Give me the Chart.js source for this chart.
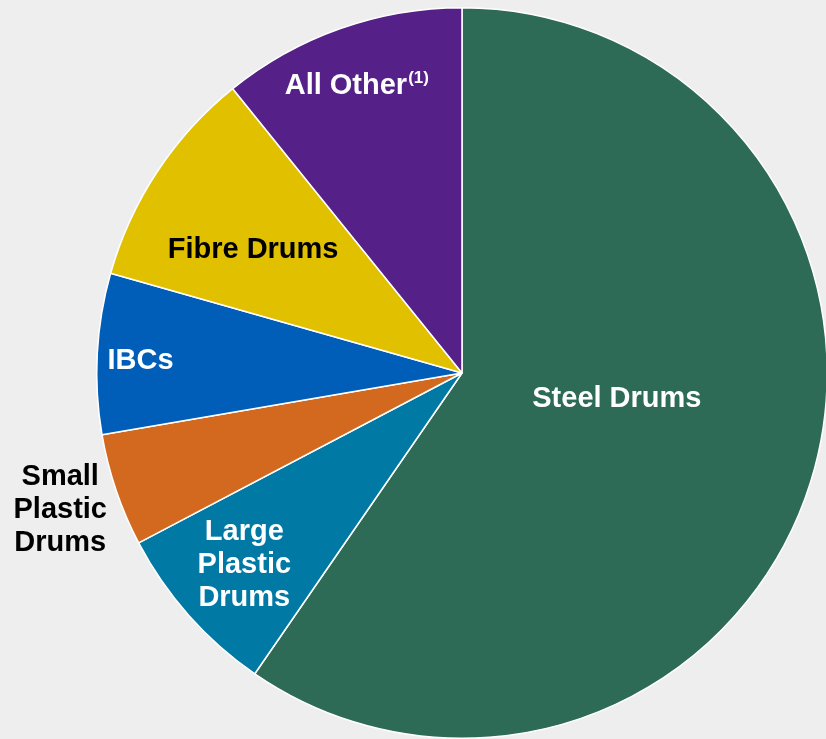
<!DOCTYPE html>
<html>
<head>
<meta charset="utf-8">
<script src="https://cdn.jsdelivr.net/npm/chart.js@4.4.1/dist/chart.umd.min.js"></script>
<style>
  html, body { margin: 0; padding: 0; background: #eeeeee; overflow: hidden; width: 826px; height: 739px; }
  canvas { display: block; }
</style>
</head>
<body>
<canvas id="c" width="832" height="745"></canvas>
<script>
// ---- Data ----
const categories = ["Steel Drums", "Large Plastic Drums", "Small Plastic Drums", "IBCs", "Fibre Drums", "All Other"];
const shares = [59.6, 7.7, 5.0, 7.1, 9.8, 10.8];
const labelLines = [["Steel Drums"], ["Large", "Plastic", "Drums"], ["Small", "Plastic", "Drums"], ["IBCs"], ["Fibre Drums"], ["All Other"]];
const labelNotes = ["", "", "", "", "", "(1)"];

// ---- Styles ----
const sliceColors = ["#2e6b57", "#0079a5", "#d2691f", "#005eb8", "#e1c000", "#552088"];
const labelColors = ["#ffffff", "#ffffff", "#000000", "#ffffff", "#000000", "#ffffff"];
// label centre offsets relative to pie centre, in units of outer radius
const labelPos = [[0.424, 0.072], [-0.596, 0.527], [-1.1, 0.374], [-0.88, -0.034], [-0.572, -0.336], [-0.288, -0.785]];

const FONT = "'Liberation Sans', Arial, Helvetica, sans-serif";

const labelPlugin = {
  id: 'sliceLabels',
  afterDatasetsDraw(chart) {
    const ctx = chart.ctx;
    const meta = chart.getDatasetMeta(0);
    const arc0 = meta.data[0];
    const cx = arc0.x, cy = arc0.y, R = arc0.outerRadius;
    ctx.save();
    ctx.textBaseline = 'middle';
    labelLines.forEach((lines, i) => {
      const x = cx + labelPos[i][0] * R;
      const y = cy + labelPos[i][1] * R;
      const lh = 33;
      ctx.fillStyle = labelColors[i];
      ctx.font = "bold 29px " + FONT;
      const startY = y - (lines.length - 1) * lh / 2;
      if (labelNotes[i]) {
        const mainW = ctx.measureText(lines[0]).width;
        ctx.font = "bold 17px " + FONT;
        const noteW = ctx.measureText(labelNotes[i]).width;
        const left = x - (mainW + noteW + 1) / 2;
        ctx.textAlign = 'left';
        ctx.font = "bold 29px " + FONT;
        ctx.fillText(lines[0], left, startY);
        ctx.font = "bold 17px " + FONT;
        ctx.fillText(labelNotes[i], left + mainW + 1, startY - 8);
      } else {
        ctx.textAlign = 'center';
        lines.forEach((t, k) => ctx.fillText(t, x, startY + k * lh));
      }
    });
    ctx.restore();
  }
};

new Chart(document.getElementById('c'), {
  type: 'pie',
  data: {
    labels: categories,
    datasets: [{
      data: shares,
      backgroundColor: sliceColors,
      borderColor: '#ffffff',
      borderWidth: 1.5
    }]
  },
  options: {
    responsive: false,
    animation: false,
    layout: { padding: { left: 96, top: 7, right: 4, bottom: 6 } },
    plugins: {
      legend: { display: false },
      tooltip: { enabled: false }
    }
  },
  plugins: [labelPlugin]
});
</script>
</body>
</html>
